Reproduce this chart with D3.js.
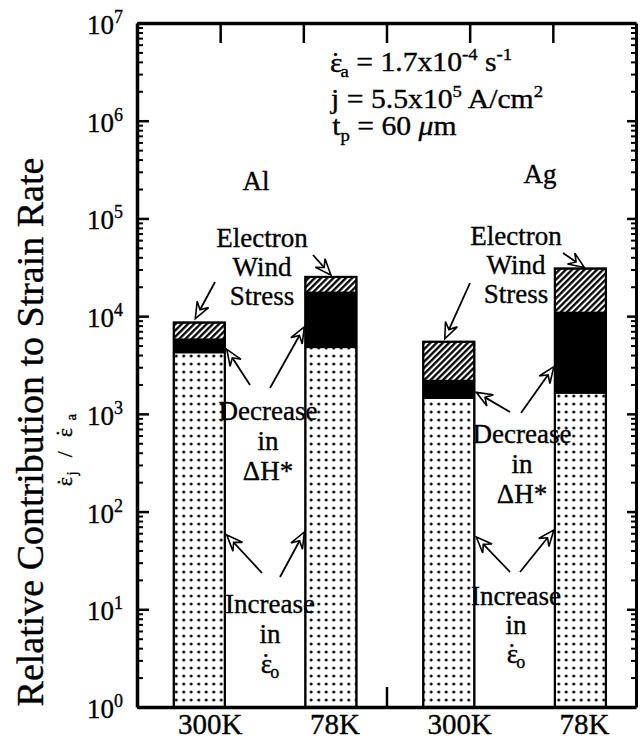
<!DOCTYPE html>
<html><head><meta charset="utf-8">
<script src="https://cdn.jsdelivr.net/npm/d3@7"></script>
<style>
body{margin:0;background:#fff}
text{font-family:"Liberation Serif","Times New Roman",serif;fill:#000;stroke:#000;stroke-width:0.35px}
</style>
</head><body>
<svg id="c" width="641" height="742"></svg>
<script>
// ---------------- data ----------------
const metals = ["Al", "Al", "Ag", "Ag"];
const temps = ["300K", "78K", "300K", "78K"];
const increaseEps0 = [4250, 4800, 1450, 1640];     // top of dotted part (increase in eps0)
const decreaseH = [5800, 17500, 2190, 10900];      // top of black part (decrease in dH*)
const electronWind = [8600, 25200, 5470, 30700];   // top of hatched part (electron wind stress)
const yExponents = [0, 1, 2, 3, 4, 5, 6, 7];
const topTickValues = [1, 2, 3, 4, 5];
const bottomTickValues = [3];

// ---------------- layout ----------------
const L = 137, R = 636, T = 23, B = 707;
const FONT = "Liberation Serif, Times New Roman, serif";
const svg = d3.select("#c");
svg.append("rect").attr("width", 641).attr("height", 742).attr("fill", "#fff");

const y = d3.scaleLog().domain([1, 1e7]).range([B, T]);
const xOuter = d3.scaleBand().domain(["Al", "Ag"]).range([L, R]);
const xInner = d3.scaleBand().domain(["300K", "78K"]).range([0, xOuter.bandwidth()])
  .paddingInner(0.612).paddingOuter(0.254).align(0.55);
const xTick = d3.scaleLinear().domain([0, 6]).range([L, R]);
const bw = xInner.bandwidth();
const bx = i => xOuter(metals[i]) + xInner(temps[i]);

// ---------------- patterns ----------------
const defs = svg.append("defs");
const dots = defs.append("pattern").attr("id", "dots").attr("patternUnits", "userSpaceOnUse")
  .attr("width", 7.5).attr("height", 8);
dots.append("rect").attr("width", 7.5).attr("height", 8).attr("fill", "#fff");
dots.append("circle").attr("cx", 3.75).attr("cy", 4).attr("r", 1.5).attr("fill", "#000");
const hatch = defs.append("pattern").attr("id", "hatch").attr("patternUnits", "userSpaceOnUse")
  .attr("width", 4.4).attr("height", 4.4).attr("patternTransform", "rotate(45)");
hatch.append("rect").attr("width", 4.4).attr("height", 4.4).attr("fill", "#fff");
hatch.append("line").attr("x1", 1.2).attr("y1", 0).attr("x2", 1.2).attr("y2", 4.4)
  .attr("stroke", "#000").attr("stroke-width", 2.3);

// ---------------- bars ----------------
const barData = metals.map((m, i) => ({
  i,
  segs: [
    { lo: 1, hi: increaseEps0[i], fill: "url(#dots)" },
    { lo: increaseEps0[i], hi: decreaseH[i], fill: "#000" },
    { lo: decreaseH[i], hi: electronWind[i], fill: "url(#hatch)" }
  ]
}));
const gBars = svg.append("g");
const bar = gBars.selectAll("g.bar").data(barData).join("g").attr("class", "bar");
bar.selectAll("rect.seg").data(d => d.segs.map(s => ({ ...s, i: d.i }))).join("rect")
  .attr("class", "seg")
  .attr("x", s => bx(s.i)).attr("width", bw)
  .attr("y", s => y(s.hi)).attr("height", s => y(s.lo) - y(s.hi))
  .attr("fill", s => s.fill).attr("stroke", "#000").attr("stroke-width", 1.6);
bar.append("rect")
  .attr("x", d => bx(d.i)).attr("width", bw)
  .attr("y", d => y(electronWind[d.i])).attr("height", d => y(1) - y(electronWind[d.i]))
  .attr("fill", "none").attr("stroke", "#000").attr("stroke-width", 2.2);

// ---------------- axes ----------------
const allTicks = y.ticks();
const majors = yExponents.map(e => Math.pow(10, e));
const minors = allTicks.filter(v => !majors.some(m => Math.abs(m - v) / m < 1e-9));
function styleAxis(g, w, tw) {
  g.selectAll(".domain").attr("stroke", "#000").attr("stroke-width", w);
  g.selectAll(".tick line").attr("stroke", "#000").attr("stroke-width", tw);
  g.selectAll(".tick text").remove();
}
const gL = svg.append("g").attr("transform", `translate(${L},0)`);
gL.call(d3.axisRight(y).tickValues(majors).tickSize(12).tickSizeOuter(0).tickFormat(""));
styleAxis(gL, 3.5, 2.5);
const gL2 = svg.append("g").attr("transform", `translate(${L},0)`);
gL2.call(d3.axisRight(y).tickValues(minors).tickSize(6).tickSizeOuter(0).tickFormat(""));
styleAxis(gL2, 0, 2);
const gR = svg.append("g").attr("transform", `translate(${R},0)`);
gR.call(d3.axisLeft(y).tickValues(majors).tickSize(9).tickSizeOuter(0).tickFormat(""));
styleAxis(gR, 3, 2.5);
const gR2 = svg.append("g").attr("transform", `translate(${R},0)`);
gR2.call(d3.axisLeft(y).tickValues(minors).tickSize(5).tickSizeOuter(0).tickFormat(""));
styleAxis(gR2, 0, 2);
const gT = svg.append("g").attr("transform", `translate(0,${T})`);
gT.call(d3.axisBottom(xTick).tickValues(topTickValues).tickSize(20).tickSizeOuter(0).tickFormat(""));
styleAxis(gT, 3.5, 2.5);
const gB = svg.append("g").attr("transform", `translate(0,${B})`);
gB.call(d3.axisTop(xTick).tickValues(bottomTickValues).tickSize(20).tickSizeOuter(0).tickFormat(""));
styleAxis(gB, 3.5, 2.5);

// y tick labels 10^n
const yl = svg.append("g").selectAll("text").data(yExponents).join("text")
  .attr("x", L - 14).attr("y", e => y(Math.pow(10, e)) + 11)
  .attr("text-anchor", "end").attr("font-size", 27).attr("font-family", FONT);
yl.append("tspan").text("10");
yl.append("tspan").attr("font-size", 18).attr("dy", -11).text(e => e);

// x category labels
svg.append("g").selectAll("text").data(temps).join("text")
  .attr("x", (t, i) => bx(i) + bw / 2 + (t === "300K" ? 11 : 4))
  .attr("y", 734).attr("text-anchor", "middle").attr("font-size", 29).attr("font-family", FONT)
  .text(t => t);

// helper: dotted epsilon (dot placed over the epsilon); returns x-advance correction
function epsDot(t, size, dx0) {
  t.append("tspan").attr("dx", dx0 || 0).text("ε");
  t.append("tspan").attr("dx", -0.40 * size).attr("dy", -0.02 * size).text("˙");
}

// ---------------- axis titles ----------------
svg.append("text").attr("transform", "translate(43,432) rotate(-90)")
  .attr("text-anchor", "middle").attr("font-size", 38).attr("font-family", FONT)
  .text("Relative Contribution to Strain Rate");
const sub = svg.append("text").attr("transform", "translate(72,450) rotate(-90)")
  .attr("text-anchor", "middle").attr("font-size", 22).attr("font-family", FONT);
epsDot(sub, 22, 0);
sub.append("tspan").attr("font-size", 15).attr("dy", 5).attr("dx", 3).text("j");
sub.append("tspan").attr("dy", -5).attr("dx", 14).text("/");
epsDot(sub, 22, 14);
sub.append("tspan").attr("font-size", 15).attr("dy", 5).attr("dx", 9).text("a");

// ---------------- parameter text ----------------
const fs = 27;
const pg = svg.append("g").attr("transform", "translate(330,0) scale(1.1,1)");
const t1 = pg.append("text").attr("x", 0).attr("y", 72).attr("font-size", fs).attr("font-family", FONT);
epsDot(t1, fs, 0);
t1.append("tspan").attr("font-size", 17).attr("dy", 6).text("a");
t1.append("tspan").attr("dy", -6).text(" = 1.7x10");
t1.append("tspan").attr("font-size", 17).attr("dy", -11).text("-4");
t1.append("tspan").attr("dy", 11).text(" s");
t1.append("tspan").attr("font-size", 17).attr("dy", -11).text("-1");
const t2 = pg.append("text").attr("x", 1).attr("y", 108).attr("font-size", fs).attr("font-family", FONT);
t2.append("tspan").text("j = 5.5x10");
t2.append("tspan").attr("font-size", 17).attr("dy", -11).text("5");
t2.append("tspan").attr("dy", 11).text(" A/cm");
t2.append("tspan").attr("font-size", 17).attr("dy", -11).text("2");
const t3 = pg.append("text").attr("x", 2).attr("y", 135).attr("font-size", fs).attr("font-family", FONT);
t3.append("tspan").text("t");
t3.append("tspan").attr("font-size", 17).attr("dy", 6).text("p");
t3.append("tspan").attr("dy", -6).text(" = 60 ");
t3.append("tspan").attr("font-style", "italic").text("μ");
t3.append("tspan").text("m");

// ---------------- annotations ----------------
function block(lines, cx, y0, dy) {
  lines.forEach((ln, k) => {
    const t = svg.append("text").attr("x", cx).attr("y", y0 + k * dy)
      .attr("text-anchor", "middle").attr("font-size", 27).attr("font-family", FONT);
    if (Array.isArray(ln)) {
      epsDot(t, 27, 0);
      t.append("tspan").attr("font-size", 18).attr("dy", 6).text(ln[1]);
    } else t.text(ln);
  });
}
block(["Al"], 256, 190, 0);
block(["Ag"], 540, 183, 0);
block(["Electron", "Wind", "Stress"], 262, 247, 29);
block(["Electron", "Wind", "Stress"], 516, 245, 29);
block(["Decrease", "in", "ΔH*"], 268, 420, 30);
block(["Decrease", "in", "ΔH*"], 522, 443, 30);
block(["Increase", "in", ["ε", "o"]], 270, 613, 30);
block(["Increase", "in", ["ε", "o"]], 516, 605, 29);

const gA = svg.append("g");
function arrow(x1, y1, x2, y2) {
  const a = Math.atan2(y2 - y1, x2 - x1), Lh = 16, Wd = 6.5, N = 10;
  const ux = Math.cos(a), uy = Math.sin(a), px = -uy, py = ux;
  const bxp = x2 - ux * Lh, byp = y2 - uy * Lh;
  const nx = x2 - ux * N, ny = y2 - uy * N;
  gA.append("line").attr("x1", x1).attr("y1", y1).attr("x2", nx).attr("y2", ny)
    .attr("stroke", "#000").attr("stroke-width", 1.8);
  gA.append("path")
    .attr("d", `M${x2},${y2}L${bxp + px * Wd},${byp + py * Wd}L${nx},${ny}L${bxp - px * Wd},${byp - py * Wd}Z`)
    .attr("fill", "#fff").attr("stroke", "#000").attr("stroke-width", 1.6).attr("stroke-linejoin", "miter");
}
const cx = i => bx(i) + bw / 2, lx = i => bx(i), rx = i => bx(i) + bw;
const midBlack = i => y(Math.sqrt(increaseEps0[i] * decreaseH[i]));
// electron wind stress
arrow(215, 282, cx(0) - 4, y(electronWind[0]) - 4);
arrow(313, 255, cx(1), y(electronWind[1]) - 2);
arrow(470, 283, cx(2) - 4, y(electronWind[2]) - 3);
arrow(563, 253, cx(3) + 4, y(electronWind[3]) - 1);
// decrease in dH*
arrow(250, 385, rx(0) + 2, y(increaseEps0[0]) - 3);
arrow(270, 388, lx(1) - 1, midBlack(1) + 7);
arrow(510, 412, rx(2) + 2, midBlack(2) + 3);
arrow(521, 413, lx(3) - 1, midBlack(3) + 14);
// increase in eps0
arrow(262, 573, rx(0) + 2, 535);
arrow(280, 577, lx(1) - 1, 532);
arrow(510, 572, rx(2) + 2, 537);
arrow(520, 572, lx(3) - 1, 530);
</script>
</body></html>
